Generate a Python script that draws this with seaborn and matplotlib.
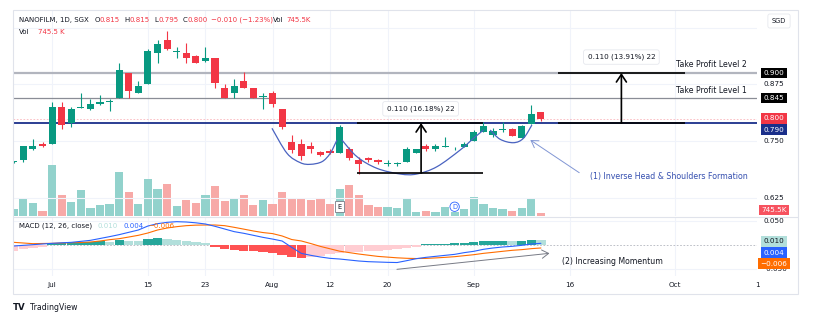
import numpy as np
import pandas as pd
import matplotlib
matplotlib.use("Agg")
import matplotlib.pyplot as plt
import matplotlib.transforms as mtransforms
from matplotlib.path import Path
from matplotlib.patches import PathPatch, Rectangle
from matplotlib.lines import Line2D
import seaborn as sns

# ---------------- data ----------------
opens = [0.705, 0.709, 0.734, 0.744, 0.744, 0.825, 0.790, 0.823, 0.820, 0.831, 0.836, 0.845, 0.901, 0.857,
         0.876, 0.943, 0.973, 0.947, 0.943, 0.937, 0.927, 0.932, 0.866, 0.855, 0.882, 0.866, 0.847, 0.857,
         0.820, 0.749, 0.744, 0.740, 0.726, 0.729, 0.725, 0.734, 0.709, 0.714, 0.709, 0.701, 0.701, 0.704,
         0.725, 0.740, 0.734, 0.738, 0.732, 0.738, 0.751, 0.770, 0.764, 0.775, 0.778, 0.758, 0.789, 0.815]
highs = [0.707, 0.739, 0.754, 0.749, 0.836, 0.836, 0.825, 0.857, 0.842, 0.851, 0.842, 0.921, 0.901, 0.882,
         0.952, 0.973, 0.993, 0.958, 0.965, 0.940, 0.958, 0.932, 0.876, 0.886, 0.902, 0.866, 0.857, 0.861,
         0.820, 0.764, 0.754, 0.749, 0.729, 0.733, 0.786, 0.738, 0.716, 0.716, 0.711, 0.709, 0.704, 0.738,
         0.734, 0.745, 0.745, 0.760, 0.737, 0.749, 0.775, 0.793, 0.780, 0.793, 0.780, 0.785, 0.830, 0.815]
lows = [0.703, 0.705, 0.731, 0.737, 0.744, 0.776, 0.781, 0.822, 0.819, 0.830, 0.816, 0.844, 0.845, 0.857,
        0.876, 0.923, 0.950, 0.932, 0.921, 0.921, 0.925, 0.866, 0.844, 0.844, 0.866, 0.844, 0.820, 0.826,
        0.776, 0.725, 0.709, 0.724, 0.717, 0.722, 0.724, 0.709, 0.678, 0.705, 0.700, 0.695, 0.695, 0.704,
        0.725, 0.729, 0.729, 0.737, 0.730, 0.737, 0.751, 0.770, 0.760, 0.770, 0.762, 0.758, 0.789, 0.795]
closes = [0.705, 0.739, 0.739, 0.739, 0.825, 0.785, 0.821, 0.825, 0.831, 0.836, 0.837, 0.907, 0.861, 0.871,
          0.948, 0.964, 0.952, 0.948, 0.932, 0.923, 0.932, 0.877, 0.844, 0.871, 0.866, 0.844, 0.848, 0.831,
          0.781, 0.731, 0.718, 0.734, 0.720, 0.725, 0.782, 0.713, 0.700, 0.709, 0.705, 0.7015, 0.7015, 0.734,
          0.734, 0.734, 0.739, 0.739, 0.733, 0.745, 0.770, 0.784, 0.773, 0.776, 0.762, 0.784, 0.809, 0.800]
volumes_k = [1850, 4890, 3590, 1380, 13990, 5880, 3950, 7260, 2130, 3040, 3310, 12060, 6540, 3230,
             10130, 7450, 8750, 2840, 4420, 3510, 5800, 8200, 4060, 4610, 5710, 3040, 4500, 3370,
             6620, 4890, 4610, 4330, 4610, 3230, 7370, 8560, 5710, 2950, 2570, 2480, 2290, 4890,
             1190, 1380, 1190, 2480, 1190, 1850, 5240, 3230, 2290, 1850, 1380, 2130, 4890, 745.5]
macd_hist = [-0.012, -0.009, -0.006, -0.0035, 0.0035, 0.0049, 0.0056, 0.0063, 0.007, 0.0084, 0.007, 0.0105,
             0.0084, 0.0084, 0.0126, 0.014, 0.012, 0.0105, 0.0077, 0.0056, 0.0035, -0.0035, -0.009, -0.0105,
             -0.012, -0.0133, -0.014, -0.016, -0.021, -0.0246, -0.0267, -0.0246, -0.0225, -0.0197, -0.016,
             -0.0155, -0.014, -0.0133, -0.012, -0.0112, -0.009, -0.0063, -0.0035, 0.0014, 0.0021, 0.0028,
             0.0035, 0.0042, 0.0063, 0.0084, 0.0086, 0.0088, 0.008, 0.0085, 0.011, 0.010]
macd_line = [-0.0021, -0.0007, 0.0007, 0.0021, 0.0035, 0.0046, 0.0056, 0.0077, 0.0098, 0.0137, 0.0176,
             0.0218, 0.0267, 0.0316, 0.040, 0.0449, 0.0477, 0.0491, 0.0484, 0.0467, 0.0442, 0.0393, 0.0337,
             0.0281, 0.0246, 0.0204, 0.0161, 0.0125, 0.0084, -0.005, -0.0176, -0.0218, -0.0253, -0.0281,
             -0.0295, -0.0316, -0.0337, -0.0351, -0.0358, -0.0365, -0.0369, -0.0330, -0.0288, -0.026,
             -0.0239, -0.0218, -0.0197, -0.0161, -0.0133, -0.0091, -0.0063, -0.0042, -0.0028, -0.0007,
             0.0021, 0.0035]
signal_line = [0.0056, 0.0042, 0.0028, 0.0032, 0.0035, 0.0042, 0.0049, 0.0053, 0.0063, 0.0084, 0.0112,
               0.0133, 0.0168, 0.0204, 0.0253, 0.0316, 0.0358, 0.0386, 0.0407, 0.0418, 0.0421, 0.0421,
               0.0407, 0.0372, 0.0334, 0.0295, 0.0262, 0.0240, 0.0190, 0.0115, 0.0085, 0.0030, -0.0030,
               -0.0080, -0.0130, -0.0160, -0.0190, -0.0215, -0.0240, -0.0255, -0.0270, -0.0280, -0.0285,
               -0.0282, -0.0272, -0.0260, -0.0246, -0.0225, -0.0204, -0.0176, -0.0155, -0.0133, -0.0112,
               -0.0098, -0.0077, -0.0063]
tick_pos = [4, 14, 20, 27, 33, 39, 48, 58, 69, 77.6]
tick_labels = ["Jul", "15", "23", "Aug", "12", "20", "Sep", "16", "Oct", "1"]

# key levels / drawings (data coordinates: bar index, price)
tp2, tp1, neckline, last_price, head_low = 0.900, 0.845, 0.790, 0.800, 0.680
measure1_x = [35.8, 49.0]
measure1_arrow = 42.5
measure2_x = [56.8, 70.0]
measure2_arrow = 63.4
left_shoulder = [(26.94, 0.7785), (28.51, 0.7235), (29.90, 0.7029), (30.94, 0.6993), (32.16, 0.7051),
                 (33.02, 0.7235), (33.72, 0.7527)]
head_curve = [(34.24, 0.7527), (35.81, 0.716), (37.89, 0.6905), (40.32, 0.678), (42.06, 0.678),
              (44.15, 0.694), (46.58, 0.7308), (47.97, 0.7565), (49.01, 0.7747)]
right_shoulder = [(49.71, 0.7747), (50.75, 0.7543), (52.14, 0.7468), (53.18, 0.7565), (54.06, 0.7857)]

# ---------------- style ----------------
sns.set_theme(style="white")
plt.rcParams['font.family'] = ['DejaVu Sans']
DARK = '#131722'
RED = '#f23645'
GREEN = '#089981'
GRID = '#f0f3fa'

W, H = 826, 322
fig = plt.figure(figsize=(W / 100, H / 100), dpi=100)
fig.patch.set_facecolor('white')


def fx(px):
    return px / W


def fy(py):
    return 1 - py / H


L, R = 13.3, 757.0
axv = fig.add_axes([fx(L), fy(216), fx(R) - fx(L), fy(10) - fy(216)])
ax = fig.add_axes([fx(L), fy(216), fx(R) - fx(L), fy(10) - fy(216)], sharex=axv)
axm = fig.add_axes([fx(L), fy(276), fx(R) - fx(L), fy(217) - fy(276)], sharex=axv)
ax.patch.set_visible(False)
for a in (ax, axv, axm):
    for s in a.spines.values():
        s.set_visible(False)
    a.set_xticks([])
    a.set_yticks([])

idx = np.arange(len(opens))
df = pd.DataFrame({'i': idx, 'o': opens, 'h': highs, 'l': lows, 'c': closes, 'v': volumes_k,
                   'hist': macd_hist, 'macd': macd_line, 'sig': signal_line})
df['up'] = df['c'] >= df['o']

# ---------------- volume (behind) ----------------
df['vdir'] = np.where(df['up'], 'up', 'down')
sns.barplot(data=df, x='i', y='v', hue='vdir', palette={'up': '#92d2cc', 'down': '#f7a9a7'},
            native_scale=True, dodge=False, width=0.86, saturation=1, errorbar=None, legend=False,
            ax=axv, linewidth=0)
axv.set_ylim(0, 206 * 276)

# ---------------- grid ----------------
for tp in tick_pos[:-1]:
    for a in (axv, axm):
        a.axvline(tp, color=GRID, lw=0.8, zorder=0)
for pv in [0.625, 0.75, 0.875, 1.0]:
    ax.axhline(pv, color=GRID, lw=0.8, zorder=0)

# ---------------- candles ----------------
ax.set_ylim(0.9 - 143 / 455, 0.9 + 63 / 455)
ax.set_xlim(-0.05, (R - L) / 9.59)
cols = np.where(df['up'], GREEN, RED)
ax.vlines(df['i'], df['l'], df['h'], colors=cols, lw=0.8, zorder=3)
body_lo = np.minimum(df['o'], df['c'])
body_h = np.maximum(np.abs(df['c'] - df['o']), 0.0018)
ax.bar(df['i'], body_h, bottom=body_lo, width=0.74, color=cols, zorder=4, linewidth=0)

# ---------------- level lines ----------------
ax.axhline(tp2, color='#b2b5be', lw=1.6, zorder=2)
ax.axhline(tp1, color='#8a8d96', lw=0.9, zorder=2)
ax.axhline(last_price, color=RED, lw=0.6, ls=(0, (2, 2)), alpha=0.35, zorder=2)
ax.axhline(neckline, color='#1a2f8a', lw=1.3, zorder=2)

# measurement drawings
ax.hlines([neckline, head_low], measure1_x[0], measure1_x[1], colors='black', lw=1.2, zorder=6)
ax.hlines([neckline, tp2], measure2_x[0], measure2_x[1], colors='black', lw=1.2, zorder=6)
for xa, y0, y1 in [(measure1_arrow, head_low, neckline), (measure2_arrow, neckline, tp2)]:
    ax.annotate('', xy=(xa, y1), xytext=(xa, y0),
                arrowprops=dict(arrowstyle='->,head_length=0.45,head_width=0.3', color='black', lw=1.2,
                                shrinkA=0, shrinkB=0), zorder=7)


def smooth_path(pts):
    pts = np.asarray(pts, dtype=float)
    verts = [tuple(pts[0])]
    codes = [Path.MOVETO]
    n = len(pts)
    for k in range(n - 1):
        p0 = pts[k - 1] if k > 0 else pts[k]
        p1 = pts[k]
        p2 = pts[k + 1]
        p3 = pts[k + 2] if k + 2 < n else pts[k + 1]
        c1 = p1 + (p2 - p0) / 6.0
        c2 = p2 - (p3 - p1) / 6.0
        verts += [tuple(c1), tuple(c2), tuple(p2)]
        codes += [Path.CURVE4] * 3
    return Path(verts, codes)


for crv in (left_shoulder, head_curve, right_shoulder):
    ax.add_patch(PathPatch(smooth_path(crv), fc='none', ec='#4a63c0', lw=0.9, zorder=5))

FS = 5.2
box_kw = dict(boxstyle='round,pad=0.55,rounding_size=0.3', fc='white', ec='#e6e8ee', lw=0.6)
ax.text(measure1_arrow - 0.05, 0.8213, '0.110 (16.18%) 22', ha='center', va='center', fontsize=FS,
        color=DARK, bbox=box_kw, zorder=8)
ax.text(measure2_arrow, 0.935, '0.110 (13.91%) 22', ha='center', va='center', fontsize=FS,
        color=DARK, bbox=box_kw, zorder=8)
ax.text(69.1, 0.9176, 'Take Profit Level 2', ha='left', va='center', fontsize=5.6, color=DARK, zorder=8)
ax.text(69.1, 0.861, 'Take Profit Level 1', ha='left', va='center', fontsize=5.6, color=DARK, zorder=8)
ax.text(60.1, 0.6725, '(1) Inverse Head & Shoulders Formation', ha='left', va='center', fontsize=5.7,
        color='#3650b0', zorder=8)
ax.annotate('', xy=(53.9, 0.7527), xytext=(59.0, 0.6809),
            arrowprops=dict(arrowstyle='->,head_length=0.4,head_width=0.25', color='#8196d4', lw=0.7,
                            shrinkA=0, shrinkB=0), zorder=8)

# E and D markers
trv = mtransforms.blended_transform_factory(axv.transData, axv.transAxes)
axv.text(34, 0.045, 'E', transform=trv, ha='center', va='center', fontsize=4.8, color=DARK, zorder=9,
         bbox=dict(boxstyle='square,pad=0.35', fc='white', ec='#787b86', lw=0.6))
axv.text(46, 0.045, 'D', transform=trv, ha='center', va='center', fontsize=4.8, color='#2962ff', zorder=9,
         bbox=dict(boxstyle='circle,pad=0.25', fc='white', ec='#2962ff', lw=0.6))

# ---------------- MACD pane ----------------
axm.set_ylim(-(276 - 245) / 475, (245 - 217) / 475)
for gv in [0.05, -0.05]:
    axm.axhline(gv, color=GRID, lw=0.8, zorder=0)
axm.axhline(0, color='#b2b5be', lw=0.6, ls=(0, (2, 2)), zorder=1)
hcols = []
for k, hv in enumerate(macd_hist):
    prev = macd_hist[k - 1] if k > 0 else hv
    if hv >= 0:
        hcols.append('#26a69a' if hv > prev else '#b2dfdb')
    else:
        hcols.append('#ff5252' if hv < prev else '#ffcdd2')
df['hcol'] = hcols
sns.barplot(data=df, x='i', y='hist', hue='hcol', palette={c: c for c in set(hcols)},
            native_scale=True, dodge=False, width=0.98, saturation=1, errorbar=None, legend=False,
            ax=axm, linewidth=0, zorder=2)
sns.lineplot(data=df, x='i', y='sig', color='#ff6d00', lw=0.8, ax=axm, zorder=3)
sns.lineplot(data=df, x='i', y='macd', color='#2962ff', lw=0.8, ax=axm, zorder=4)
axm.annotate('', xy=(55.9, -0.0175), xytext=(39.98, -0.0512),
             arrowprops=dict(arrowstyle='->,head_length=0.4,head_width=0.25', color='#787b86', lw=0.7,
                             shrinkA=0, shrinkB=0), annotation_clip=False)
axm.text(57.2, -0.0352, '(2) Increasing Momentum', ha='left', va='center', fontsize=5.6, color=DARK)

for a in (ax, axv, axm):
    a.set_xlabel('')
    a.set_ylabel('')
    a.set_xticks([])
    a.set_yticks([])
ax.set_xlim(-0.05, (R - L) / 9.59)

# time axis labels
trt = mtransforms.blended_transform_factory(axm.transData, axm.transAxes)
for tp, tl in zip(tick_pos, tick_labels):
    axm.text(tp, -0.16, tl, transform=trt, ha='center', va='center', fontsize=5.2, color=DARK,
             clip_on=False)


# ---------------- right price scale labels ----------------
def plabel(axis, val, txt, fc=None, tc=DARK, dy=0.0):
    tr = mtransforms.blended_transform_factory(axis.transAxes, axis.transData)
    kw = {}
    if fc:
        kw['bbox'] = dict(boxstyle='square,pad=0.32', fc=fc, ec='none')
    axis.annotate(txt, xy=(1, val), xycoords=tr, xytext=(17 * 0.72, dy * 0.72), textcoords='offset points',
                  ha='center', va='center', fontsize=5.2, color=tc, annotation_clip=False, zorder=10, **kw)


plabel(ax, tp2, '0.900', fc='black', tc='white')
plabel(ax, 0.875, '0.875')
plabel(ax, tp1, '0.845', fc='black', tc='white')
plabel(ax, last_price, '0.800', fc=RED, tc='white')
plabel(ax, neckline, '0.790', fc='#1a2f8a', tc='white', dy=-6.7)
plabel(ax, 0.750, '0.750')
plabel(ax, 0.625, '0.625')
plabel(axv, volumes_k[-1], '745.5K', fc='#f7525f', tc='white', dy=3.3)
plabel(axm, 0.05, '0.050')
plabel(axm, -0.05, '−0.050')
plabel(axm, macd_hist[-1], '0.010', fc='#b2dfdb', tc=DARK, dy=-1.0)
plabel(axm, macd_line[-1], '0.004', fc='#2962ff', tc='white', dy=-9.4)
plabel(axm, signal_line[-1], '−0.006', fc='#ff6d00', tc='white', dy=-15.7)

# ---------------- header / legends ----------------
def ftxt(x, y, s, color=DARK, size=5.0, **kw):
    fig.text(fx(x), fy(y), s, color=color, fontsize=size, ha='left', va='center', **kw)


ftxt(19, 20, 'NANOFILM, 1D, SGX')
for xx, s, c in [(94.3, 'O', DARK), (99.3, '0.815', RED), (124, 'H', DARK), (129, '0.815', RED),
                 (154, 'L', DARK), (158.5, '0.795', RED), (182.7, 'C', DARK), (187.5, '0.800', RED),
                 (211, '−0.010 (−1.23%)', RED), (273.3, 'Vol', DARK), (286, '745.5K', RED)]:
    ftxt(xx, 20, s, color=c)
ftxt(19, 32, 'Vol')
ftxt(38, 32, '745.5 K', color=RED)
ftxt(19, 226, 'MACD (12, 26, close)')
ftxt(98, 226, '0.010', color='#b2dfdb')
ftxt(123, 226, '0.004', color='#2962ff')
ftxt(148, 226, '−0.006', color='#ff6d00')
fig.text(fx(779), fy(21), 'SGD', fontsize=4.8, color=DARK, ha='center', va='center',
         bbox=dict(boxstyle='round,pad=0.6,rounding_size=0.3', fc='white', ec='#e6e8ee', lw=0.6))

# frame and separators
fig.add_artist(Rectangle((fx(13.3), fy(294)), fx(798) - fx(13.3), fy(10) - fy(294), transform=fig.transFigure,
                         fill=False, ec='#e0e3eb', lw=0.8))
fig.add_artist(Line2D([fx(13.3), fx(798)], [fy(216.5), fy(216.5)], transform=fig.transFigure,
                      color='#e0e3eb', lw=0.8))

# TradingView logo
fig.text(fx(13), fy(307), 'TV', fontsize=6.2, fontweight='bold', color=DARK, ha='left', va='center')
fig.text(fx(30), fy(307), 'TradingView', fontsize=5.6, color=DARK, ha='left', va='center')

fig.savefig('out.png', dpi=100)
